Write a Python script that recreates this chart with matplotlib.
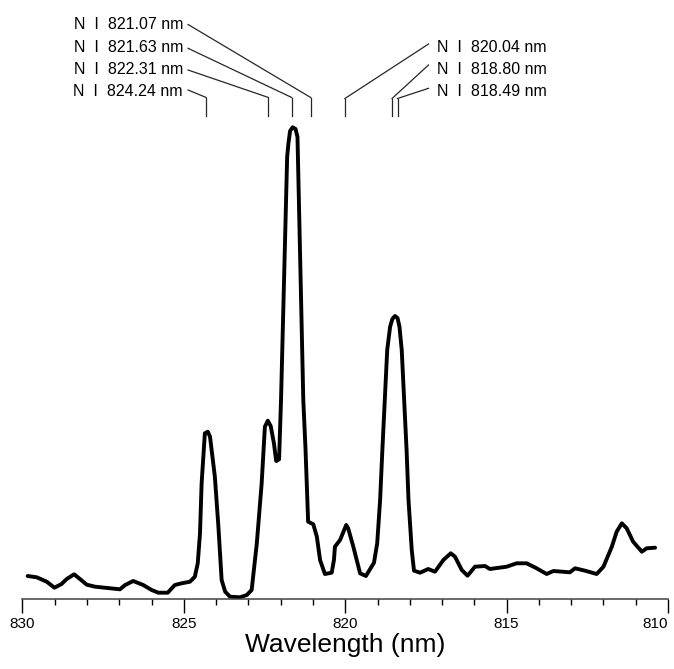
"""N I emission lines around 810-830 nm: spectrum with labelled line positions."""

import matplotlib
matplotlib.use("Agg")
import matplotlib.pyplot as plt
from matplotlib.ticker import MultipleLocator

plt.rcParams["font.family"] = ["Liberation Sans", "DejaVu Sans"]

# spectrum (wavelength in nm, intensity in arbitrary units)
wavelength = [
    829.84, 829.56, 829.25, 829.01, 828.79, 828.63, 828.40, 828.22, 828.01, 827.75,
    826.98, 826.82, 826.57, 826.26, 826.00, 825.79, 825.50, 825.28, 825.07, 824.81,
    824.66, 824.57, 824.50, 824.45, 824.35, 824.26, 824.19, 824.04, 823.93, 823.83,
    823.72, 823.57, 823.26, 823.05, 822.90, 822.74, 822.59, 822.49, 822.40, 822.31,
    822.21, 822.14, 822.05, 821.99, 821.80, 821.76, 821.71, 821.63, 821.54, 821.48,
    821.30, 821.23, 821.15, 820.99, 820.88, 820.78, 820.63, 820.42, 820.35, 820.32,
    820.16, 819.97, 819.91, 819.75, 819.54, 819.36, 819.11, 819.01, 818.92, 818.85,
    818.70, 818.61, 818.54, 818.46, 818.38, 818.32, 818.25, 818.10, 818.04, 817.94,
    817.87, 817.68, 817.43, 817.22, 816.96, 816.73, 816.60, 816.39, 816.21, 815.98,
    815.67, 815.52, 815.00, 814.69, 814.38, 814.07, 813.76, 813.55, 813.04, 812.88,
    812.57, 812.21, 812.00, 811.74, 811.59, 811.43, 811.28, 811.08, 810.81, 810.66,
    810.40,
]
intensity = [
    22.5, 21.2, 16.8, 10.8, 14.5, 19.5, 24.2, 19.5, 13.8, 11.8,
    9.2, 13.5, 17.5, 13.5, 8.5, 5.8, 5.8, 13.5, 15.2, 16.8,
    21.8, 35.2, 65.5, 115.2, 165.2, 166.8, 161.8, 121.8, 71.8, 18.5,
    6.8, 1.8, 1.2, 3.5, 8.5, 55.2, 115.2, 171.8, 177.8, 172.5,
    155.2, 137.5, 139.2, 198.5, 441.8, 455.2, 467.5, 471.2, 469.5, 461.5,
    198.5, 148.5, 76.8, 74.2, 61.8, 38.5, 24.5, 25.8, 38.5, 51.8,
    58.5, 73.5, 70.2, 51.8, 25.2, 22.5, 35.8, 55.2, 98.5, 148.5,
    248.5, 271.8, 279.5, 282.5, 280.5, 271.8, 248.5, 148.5, 98.5, 48.5,
    27.8, 25.8, 29.5, 26.8, 38.5, 45.2, 41.8, 28.5, 22.8, 31.8,
    32.5, 29.5, 31.8, 35.2, 35.2, 30.2, 24.5, 27.5, 26.2, 30.2,
    27.8, 24.5, 31.8, 51.8, 66.8, 75.2, 70.2, 56.8, 46.8, 50.2,
    50.8,
]

# N I line labels and where their markers sit on the wavelength axis
line_labels = ["824.24", "822.31", "821.63", "821.07", "820.04", "818.80", "818.49"]
marker_pos = [824.31, 822.38, 821.66, 821.07, 820.01, 818.55, 818.38]

# layout of the label stack (data coords): label row heights, which side
label_side = ["left", "left", "left", "left", "right", "right", "right"]
label_y = [506.5, 529.0, 550.8, 574.0, 550.8, 529.0, 506.5]
leader_end_y = [508.5, 528.5, 550.2, 574.0, 554.5, 533.5, 510.2]
marker_bottom, marker_top = 482.5, 500.0
left_text_x, left_leader_x = 825.03, 824.87
right_text_x, right_leader_x = 817.17, 817.42


def main():
    fig = plt.figure(figsize=(6.74, 6.69), dpi=100)
    ax = fig.add_axes([22.5 / 674, 70.5 / 669, 645.5 / 674, 598.5 / 669])

    ax.plot(wavelength, intensity, color="black", linewidth=2.8,
            solid_joinstyle="round", solid_capstyle="round")

    for lab, pos, side, ty, ly in zip(line_labels, marker_pos, label_side,
                                      label_y, leader_end_y):
        top = marker_top + (1.0 if side == "left" else 0.0)
        ax.plot([pos, pos], [marker_bottom, top], color="0.15", linewidth=0.9)
        if side == "left":
            ax.plot([pos, left_leader_x], [top, ly], color="0.15", linewidth=0.9)
            ax.text(left_text_x, ty, f"N  I  {lab} nm", ha="right", va="center",
                    fontsize=11.5)
        else:
            ax.plot([pos, right_leader_x], [top, ly], color="0.15", linewidth=0.9)
            ax.text(right_text_x, ty, f"N  I  {lab} nm", ha="left", va="center",
                    fontsize=11.5)

    ax.set_xlim(830, 810)
    ax.set_ylim(0, 598.5)
    ax.set_xticks([830, 825, 820, 815, 810])
    ax.xaxis.set_minor_locator(MultipleLocator(1))
    ax.tick_params(axis="x", which="major", length=10, width=1.0, labelsize=11, pad=3)
    ax.tick_params(axis="x", which="minor", length=4.5, width=1.0)
    for lbl in ax.get_xticklabels():
        if lbl.get_text() == "810":
            lbl.set_horizontalalignment("right")
    ax.set_yticks([])
    for side in ["top", "left", "right"]:
        ax.spines[side].set_visible(False)
    ax.spines["bottom"].set_linewidth(1.1)
    ax.spines["bottom"].set_color("0.25")
    ax.set_xlabel("Wavelength (nm)", fontsize=19, labelpad=2)

    fig.savefig("out.png", dpi=100)


if __name__ == "__main__":
    main()
